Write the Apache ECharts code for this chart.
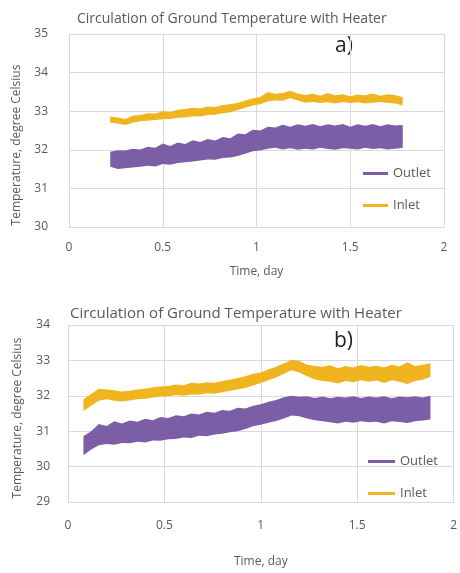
<!DOCTYPE html>
<html>
<head>
<meta charset="utf-8">
<script src="https://cdn.jsdelivr.net/npm/echarts@6/dist/echarts.min.js"></script>
<style>
  html, body { margin: 0; padding: 0; background: #fff; }
  .myChart { position: absolute; left: 0; width: 460px; }
  #chartA { top: 0; height: 290px; }
  #chartB { top: 290px; height: 283px; }
</style>
</head>
<body>
<div id="chartA" class="myChart"></div>
<div id="chartB" class="myChart"></div>
<script>
// panel a) – time in days, temperatures read as lower / upper edge of each noisy band
const timeA = [0.22, 0.26, 0.30, 0.34, 0.38, 0.42, 0.46, 0.50, 0.54, 0.58, 0.62, 0.66, 0.70, 0.74, 0.78, 0.82, 0.86, 0.90, 0.94, 0.98,
  1.02, 1.06, 1.10, 1.14, 1.18, 1.22, 1.26, 1.30, 1.34, 1.38, 1.42, 1.46, 1.50, 1.54, 1.58, 1.62, 1.66, 1.70, 1.74, 1.78]
const outletLoA = [31.56, 31.50, 31.52, 31.54, 31.56, 31.59, 31.57, 31.63, 31.61, 31.66, 31.68, 31.70, 31.72, 31.75, 31.74, 31.79, 31.80, 31.84, 31.90, 31.96,
  31.98, 32.03, 32.05, 32.01, 32.04, 32.00, 32.03, 32.01, 32.05, 32.02, 32.00, 32.04, 32.03, 32.01, 32.05, 32.02, 32.04, 32.01, 32.03, 32.05]
const outletHiA = [31.95, 31.99, 31.98, 32.03, 32.01, 32.08, 32.05, 32.16, 32.10, 32.19, 32.15, 32.25, 32.20, 32.28, 32.24, 32.33, 32.30, 32.42, 32.40, 32.52,
  32.50, 32.60, 32.58, 32.65, 32.60, 32.66, 32.62, 32.67, 32.61, 32.66, 32.63, 32.67, 32.60, 32.66, 32.62, 32.67, 32.61, 32.66, 32.63, 32.64]
const inletLoA = [32.70, 32.68, 32.64, 32.70, 32.74, 32.75, 32.77, 32.79, 32.80, 32.83, 32.84, 32.87, 32.86, 32.90, 32.91, 32.95, 32.97, 33.03, 33.09, 33.15,
  33.18, 33.25, 33.28, 33.27, 33.34, 33.28, 33.22, 33.24, 33.21, 33.23, 33.20, 33.24, 33.21, 33.23, 33.20, 33.22, 33.24, 33.21, 33.20, 33.15]
const inletHiA = [32.86, 32.84, 32.80, 32.88, 32.90, 32.95, 32.94, 33.00, 32.98, 33.04, 33.06, 33.09, 33.07, 33.12, 33.11, 33.16, 33.18, 33.22, 33.28, 33.33,
  33.37, 33.50, 33.45, 33.47, 33.53, 33.46, 33.42, 33.45, 33.40, 33.47, 33.41, 33.44, 33.39, 33.43, 33.41, 33.46, 33.40, 33.44, 33.42, 33.36]

// panel b)
const timeB = [0.08, 0.12, 0.16, 0.20, 0.24, 0.28, 0.32, 0.36, 0.40, 0.44, 0.48, 0.52, 0.56, 0.60, 0.64, 0.68, 0.72, 0.76, 0.80, 0.84, 0.88, 0.92, 0.96,
  1.00, 1.04, 1.08, 1.12, 1.16, 1.20, 1.24, 1.28, 1.32, 1.36, 1.40, 1.44, 1.48, 1.52, 1.56, 1.60, 1.64, 1.68, 1.72, 1.76, 1.80, 1.84, 1.88]
const outletLoB = [30.32, 30.48, 30.60, 30.64, 30.62, 30.67, 30.66, 30.70, 30.68, 30.74, 30.73, 30.77, 30.78, 30.82, 30.81, 30.87, 30.86, 30.91, 30.93, 30.97, 31.00, 31.06, 31.14,
  31.18, 31.24, 31.29, 31.36, 31.44, 31.42, 31.36, 31.31, 31.28, 31.25, 31.22, 31.27, 31.24, 31.28, 31.25, 31.27, 31.22, 31.28, 31.26, 31.23, 31.28, 31.30, 31.33]
const outletHiB = [30.86, 31.00, 31.20, 31.15, 31.28, 31.22, 31.30, 31.27, 31.35, 31.31, 31.40, 31.37, 31.45, 31.42, 31.50, 31.47, 31.55, 31.52, 31.60, 31.58, 31.66, 31.64, 31.72,
  31.76, 31.83, 31.88, 31.96, 32.00, 31.97, 31.99, 31.94, 31.98, 31.93, 31.97, 31.95, 31.99, 31.94, 31.98, 31.95, 31.99, 31.93, 31.98, 31.96, 31.99, 31.95, 32.00]
const inletLoB = [31.57, 31.72, 31.86, 31.90, 31.86, 31.84, 31.87, 31.90, 31.92, 31.95, 31.98, 31.99, 32.02, 32.00, 32.04, 32.03, 32.07, 32.06, 32.10, 32.14, 32.18, 32.22, 32.29,
  32.36, 32.44, 32.52, 32.62, 32.72, 32.66, 32.55, 32.46, 32.42, 32.40, 32.35, 32.42, 32.38, 32.44, 32.40, 32.43, 32.36, 32.44, 32.40, 32.33, 32.42, 32.45, 32.54]
const inletHiB = [31.90, 32.05, 32.20, 32.18, 32.16, 32.12, 32.14, 32.18, 32.20, 32.24, 32.26, 32.28, 32.32, 32.30, 32.37, 32.35, 32.38, 32.37, 32.42, 32.45, 32.50, 32.55, 32.62,
  32.66, 32.75, 32.82, 32.92, 33.02, 32.98, 32.88, 32.84, 32.82, 32.86, 32.78, 32.84, 32.80, 32.87, 32.82, 32.85, 32.80, 32.88, 32.83, 32.95, 32.84, 32.88, 32.92]

const titleText = 'Circulation of Ground Temperature with Heater'
const yTitle = 'Temperature, degree Celsius'
const seriesNames = ['Outlet', 'Inlet']
const xRange = [0, 2]
const yRangeA = [30, 35]
const yRangeB = [29, 34]

const PURPLE = '#7b5ea6'
const YELLOW = '#f0b41e'
const GREY = '#595959'
const GRID = '#d9d9d9'
const FONT = 'Open Sans'

// one filled polygon per series: upper edge left->right, lower edge back
function band (times, lo, hi) {
  return function (params, api) {
    if (params.dataIndex > 0) return
    const top = times.map((t, i) => api.coord([t, hi[i]]))
    const bottom = times.map((t, i) => api.coord([t, lo[i]])).reverse()
    return {
      type: 'polygon',
      shape: { points: top.concat(bottom) },
      style: { fill: api.visual('color') }
    }
  }
}

function makeOption (p) {
  return {
    animation: false,
    textStyle: { fontFamily: FONT },
    title: {
      text: titleText,
      left: p.titleLeft,
      top: p.titleTop,
      padding: 0,
      textStyle: { color: GREY, fontSize: p.titleSize, fontWeight: 'normal', fontFamily: FONT }
    },
    graphic: [
      {
        type: 'text',
        left: p.tagX,
        top: p.tagY,
        style: { text: p.tag, fontSize: 21, fill: '#222', fontFamily: FONT }
      },
      {
        type: 'text',
        x: p.yTitlePos[0],
        y: p.yTitlePos[1],
        rotation: Math.PI / 2,
        style: { text: yTitle, fontSize: 12, fill: GREY, fontFamily: FONT, align: 'center', verticalAlign: 'middle' }
      }
    ],
    legend: {
      orient: 'vertical',
      left: p.legendX,
      top: p.legendY,
      padding: 0,
      itemWidth: p.legendLine,
      itemHeight: 3,
      itemGap: 19,
      textStyle: { color: GREY, fontSize: 13, fontFamily: FONT },
      data: seriesNames.map(n => ({ name: n, icon: 'rect' }))
    },
    grid: { left: p.grid[0], right: p.grid[1], top: p.grid[2], bottom: p.grid[3] },
    xAxis: {
      type: 'value',
      min: xRange[0],
      max: xRange[1],
      interval: 0.5,
      name: 'Time, day',
      nameLocation: 'middle',
      nameGap: p.xNameGap,
      nameTextStyle: { color: GREY, fontSize: 12 },
      axisLine: { lineStyle: { color: GRID } },
      axisTick: { show: false },
      axisLabel: { color: GREY, fontSize: 12, margin: p.xLabelMargin },
      splitLine: { lineStyle: { color: GRID } }
    },
    yAxis: {
      type: 'value',
      min: p.yRange[0],
      max: p.yRange[1],
      interval: 1,
      axisLine: { show: true, lineStyle: { color: GRID } },
      axisTick: { show: false },
      axisLabel: { color: GREY, fontSize: 12, margin: p.yLabelMargin },
      splitLine: { lineStyle: { color: GRID } }
    },
    series: [
      {
        name: seriesNames[0],
        type: 'custom',
        itemStyle: { color: PURPLE },
        data: [[p.times[0], p.outletLo[0]]],
        renderItem: band(p.times, p.outletLo, p.outletHi)
      },
      {
        name: seriesNames[1],
        type: 'custom',
        itemStyle: { color: YELLOW },
        data: [[p.times[0], p.inletLo[0]]],
        renderItem: band(p.times, p.inletLo, p.inletHi)
      }
    ]
  }
}

echarts.init(document.getElementById('chartA')).setOption(makeOption({
  times: timeA, outletLo: outletLoA, outletHi: outletHiA, inletLo: inletLoA, inletHi: inletHiA,
  yRange: yRangeA, tag: 'a)',
  titleLeft: 77, titleTop: 12, titleSize: 14,
  tagX: 335, tagY: 36,
  legendX: 363, legendY: 167, legendLine: 25,
  grid: [69, 16, 34, 63],
  xNameGap: 39, xLabelMargin: 15,
  yTitlePos: [17, 145], yLabelMargin: 21
}))

echarts.init(document.getElementById('chartB')).setOption(makeOption({
  times: timeB, outletLo: outletLoB, outletHi: outletHiB, inletLo: inletLoB, inletHi: inletHiB,
  yRange: yRangeB, tag: 'b)',
  titleLeft: 70, titleTop: 16, titleSize: 15,
  tagX: 334, tagY: 41,
  legendX: 368, legendY: 165, legendLine: 27,
  grid: [68, 3, 35, 54],
  xNameGap: 54, xLabelMargin: 18,
  yTitlePos: [18, 128], yLabelMargin: 18
}))
</script>
</body>
</html>
